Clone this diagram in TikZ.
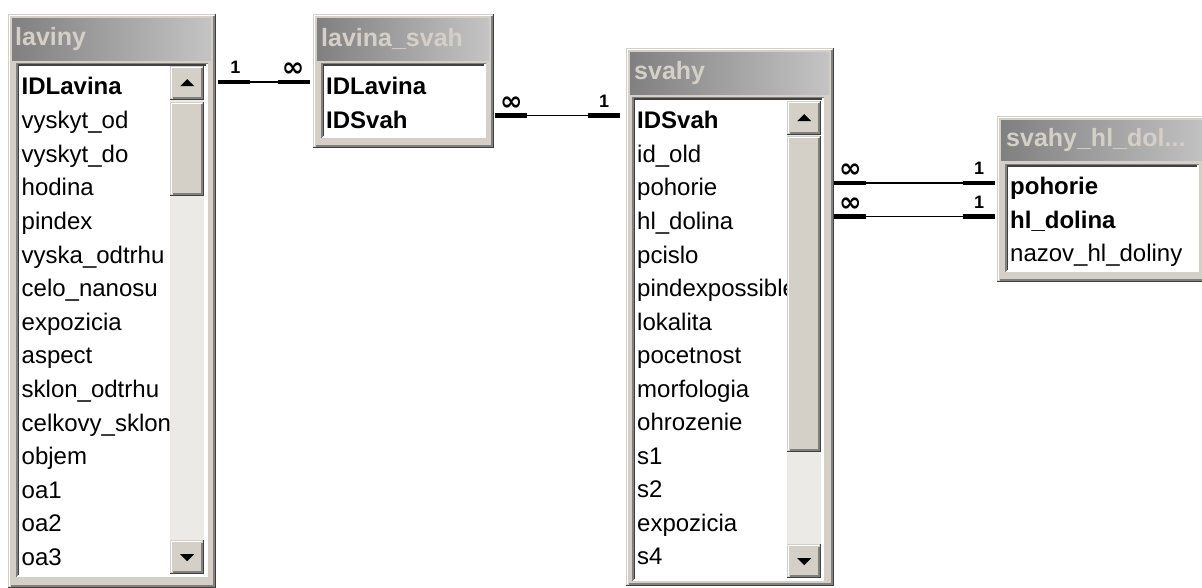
\documentclass[tikz,border=0pt]{standalone}
\usepackage{fontspec}
\setmainfont{Liberation Sans}
\newfontfamily\symfont{DejaVu Sans}
\usetikzlibrary{calc}
\definecolor{face}{HTML}{D4D0C8}
\definecolor{shadow}{HTML}{808080}
\definecolor{dkshadow}{HTML}{404040}
\definecolor{track}{HTML}{ECEAE6}
\definecolor{titledark}{HTML}{808080}
\definecolor{titlelight}{HTML}{C4C4C4}
\tikzset{
  win/.style={fill=face, inner sep=0, anchor=north west},
  tbar/.style={inner sep=0, anchor=north west, left color=titledark, right color=titlelight},
  ttext/.style={anchor=west, inner sep=0, text=face, font=\fontsize{25}{28}\selectfont\bfseries},
  listbox/.style={fill=white, inner sep=0, anchor=north west},
  fieldrow/.style={anchor=base west, inner sep=0, font=\fontsize{24}{28}\selectfont},
  keyrow/.style={fieldrow, font=\fontsize{24}{28}\selectfont\bfseries},
  trackbox/.style={fill=track, inner sep=0, anchor=north west},
  btn/.style={fill=face, inner sep=0, anchor=north west},
  thinrel/.style={line width=1.3pt},
  thickrel/.style={line width=4.5pt},
  card/.style={inner sep=0, anchor=south, font=\fontsize{18}{18}\selectfont\bfseries},
  inf/.style={inner sep=0, anchor=south, font=\fontsize{27}{27}\selectfont\symfont\bfseries},
}
\newcommand\dbraised[1]{%
  \draw[white,line width=1.5pt] ([shift={(1.5,-2)}]#1.south west) -- ([shift={(1.5,1.5)}]#1.north west) -- ([shift={(-2,1.5)}]#1.north east);
  \draw[shadow,line width=1.5pt] ([shift={(-2.5,2.5)}]#1.north east) -- ([shift={(-2.5,-2.5)}]#1.south east) -- ([shift={(2.5,-2.5)}]#1.south west);
  \draw[dkshadow,line width=1.5pt] ([shift={(-0.75,0)}]#1.north east) -- ([shift={(-0.75,-0.75)}]#1.south east) -- ([shift={(0,-0.75)}]#1.south west);
}
\newcommand\dbsunken[1]{%
  \draw[shadow,line width=1.5pt] ([shift={(0.75,-0.75)}]#1.south west) -- ([shift={(0.75,0.75)}]#1.north west) -- ([shift={(-0.75,0.75)}]#1.north east);
  \draw[dkshadow,line width=1.5pt] ([shift={(2.25,-2.25)}]#1.south west) -- ([shift={(2.25,2.25)}]#1.north west) -- ([shift={(-2.25,2.25)}]#1.north east);
  \draw[white,line width=1.5pt] ([shift={(-0.75,0.75)}]#1.north east) -- ([shift={(-0.75,-0.75)}]#1.south east) -- ([shift={(0.75,-0.75)}]#1.south west);
}
\newcommand\dbuparrow[1]{\fill ([shift={(-7,3)}]#1.center) -- ++(14,0) -- ++(-7,-7) -- cycle;}
\newcommand\dbdownarrow[1]{\fill ([shift={(-7,-3)}]#1.center) -- ++(14,0) -- ++(-7,7) -- cycle;}
\begin{document}
\begin{tikzpicture}[x=1pt,y=-1pt]
\useasboundingbox (0,0) rectangle (1202,588);
\fill[white] (0,0) rectangle (1202,588);
\clip (0,0) rectangle (1202,588);

% ---------- laviny ----------
\node[win, minimum width=208, minimum height=574] (laviny) at (8,14) {};
\dbraised{laviny}
\node[tbar, minimum width=199, minimum height=42] (lavinyT) at (12,18) {};
\node[ttext] (lavinyTT) at (15,39) {laviny};
\node[listbox, minimum width=192, minimum height=514] (lavinyL) at (16,63) {};
\dbsunken{lavinyL}
\node[keyrow] (lvr0) at (21.5,95) {IDLavina};
\foreach \t [count=\i] in {vyskyt\_od, vyskyt\_do, hodina, pindex, vyska\_odtrhu, celo\_nanosu, expozicia, aspect, sklon\_odtrhu, celkovy\_sklon, objem, oa1, oa2, oa3}
  \node[fieldrow] (lvr\i) at (21.5,95+33.6*\i) {\t};
\node[trackbox, minimum width=34, minimum height=508] (lavinyS) at (170,66) {};
\node[btn, minimum width=34, minimum height=34] (lavinyU) at (170,66) {};
\dbraised{lavinyU}
\dbuparrow{lavinyU}
\node[btn, minimum width=34, minimum height=94] (lavinyH) at (170,102) {};
\dbraised{lavinyH}
\node[btn, minimum width=34, minimum height=34] (lavinyD) at (170,540) {};
\dbraised{lavinyD}
\dbdownarrow{lavinyD}

% ---------- lavina_svah ----------
\node[win, minimum width=181, minimum height=134] (lsvah) at (313,14) {};
\dbraised{lsvah}
\node[tbar, minimum width=172, minimum height=42] (lsvahT) at (317,18) {};
\node[ttext] (lsvahTT) at (321,39) {lavina\_svah};
\node[listbox, minimum width=165, minimum height=75] (lsvahL) at (321,63) {};
\dbsunken{lsvahL}
\node[keyrow] (lsr0) at (326,95) {IDLavina};
\node[keyrow] (lsr1) at (326,128.6) {IDSvah};

% ---------- svahy ----------
\node[win, minimum width=208, minimum height=538] (svahy) at (626,48) {};
\dbraised{svahy}
\node[tbar, minimum width=199, minimum height=42] (svahyT) at (630,52) {};
\node[ttext] (svahyTT) at (634,73) {svahy};
\node[listbox, minimum width=192, minimum height=484] (svahyL) at (632,97) {};
\dbsunken{svahyL}
\node[keyrow] (svr0) at (637,129) {IDSvah};
\foreach \t [count=\i] in {id\_old, pohorie, hl\_dolina, pcislo, pindexpossible, lokalita, pocetnost, morfologia, ohrozenie, s1, s2, expozicia, s4}
  \node[fieldrow] (svr\i) at (637,129+33.5*\i) {\t};
\node[trackbox, minimum width=34, minimum height=477] (svahyS) at (787,101) {};
\node[btn, minimum width=34, minimum height=34] (svahyU) at (787,101) {};
\dbraised{svahyU}
\dbuparrow{svahyU}
\node[btn, minimum width=34, minimum height=316] (svahyH) at (787,136) {};
\dbraised{svahyH}
\node[btn, minimum width=34, minimum height=34] (svahyD) at (787,544) {};
\dbraised{svahyD}
\dbdownarrow{svahyD}

% ---------- svahy_hl_doliny ----------
\node[win, minimum width=212, minimum height=166] (shl) at (997,116) {};
\dbraised{shl}
\node[tbar, minimum width=210, minimum height=40] (shlT) at (1001,120) {};
\node[ttext] (shlTT) at (1006,140) {svahy\_hl\_dol...};
\node[listbox, minimum width=194, minimum height=108] (shlL) at (1005,164) {};
\dbsunken{shlL}
\node[keyrow] (shr0) at (1010,195) {pohorie};
\node[keyrow] (shr1) at (1010,228.3) {hl\_dolina};
\node[fieldrow] (shr2) at (1010,261.6) {nazov\_hl\_doliny};

% ---------- relationships ----------
\coordinate (a1) at ($(laviny.east |- lvr0.base)+(2,-13)$);
\coordinate (b1) at ($(lsvah.west |- lvr0.base)+(-3,-13)$);
\coordinate (a2) at ($(lsvah.east |- lsr1.base)+(1,-13)$);
\coordinate (b2) at ($(svahy.west |- lsr1.base)+(-6,-13)$);
\coordinate (a3) at ($(svahy.east |- shr0.base)+(0,-12)$);
\coordinate (b3) at ($(shl.west |- shr0.base)+(-2,-12)$);
\coordinate (a4) at ($(svahy.east |- shr1.base)+(0,-12)$);
\coordinate (b4) at ($(shl.west |- shr1.base)+(-2,-12)$);

\foreach \s/\e in {a1/b1, a2/b2, a3/b3, a4/b4} {
  \draw[thinrel] (\s) -- (\e);
  \draw[thickrel] (\s) -- ++(32,0);
  \draw[thickrel] (\e) -- ++(-32,0);
}
\node[card] (l1a) at ($(a1)+(17,-8)$) {1};
\node[inf] (l1b) at ($(b1)+(-17,-5)$) {∞};
\node[inf] (l2a) at ($(a2)+(16,-5)$) {∞};
\node[card] (l2b) at ($(b2)+(-16,-8)$) {1};
\node[inf] (l3a) at ($(a3)+(16,-5)$) {∞};
\node[card] (l3b) at ($(b3)+(-16,-8)$) {1};
\node[inf] (l4a) at ($(a4)+(16,-5)$) {∞};
\node[card] (l4b) at ($(b4)+(-16,-8)$) {1};
\end{tikzpicture}
\end{document}
